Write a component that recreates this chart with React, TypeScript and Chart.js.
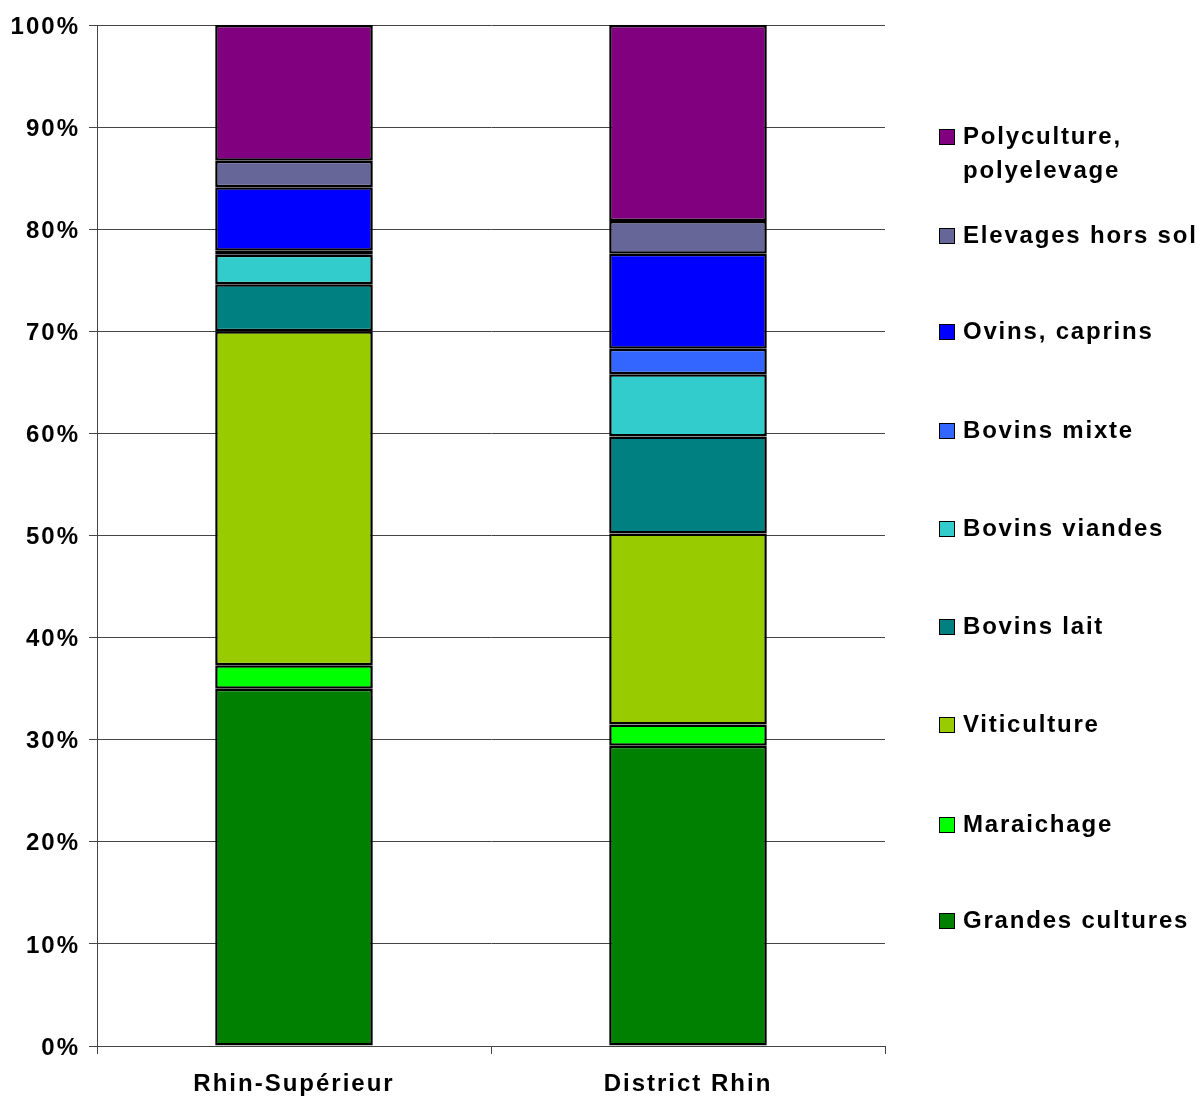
import React, { useEffect, useRef } from "react";
import { Chart, registerables } from "chart.js";

Chart.register(...registerables);

const categories = ["Rhin-Supérieur", "District Rhin"];
const seriesNames = [
  "Grandes cultures",
  "Maraichage",
  "Viticulture",
  "Bovins lait",
  "Bovins viandes",
  "Bovins mixte",
  "Ovins, caprins",
  "Elevages hors sol",
  "Polyculture, polyelevage",
];
const legendLines = [
  ["Grandes cultures"],
  ["Maraichage"],
  ["Viticulture"],
  ["Bovins lait"],
  ["Bovins viandes"],
  ["Bovins mixte"],
  ["Ovins, caprins"],
  ["Elevages hors sol"],
  ["Polyculture,", "polyelevage"],
];
const grandesCultures = [35.0, 29.4];
const maraichage = [2.3, 2.1];
const viticulture = [32.7, 18.7];
const bovinsLait = [4.6, 9.5];
const bovinsViandes = [2.9, 6.1];
const bovinsMixte = [0.4, 2.5];
const ovinsCaprins = [6.2, 9.3];
const elevagesHorsSol = [2.6, 3.2];
const polyculture = [13.3, 19.2];
const seriesValues = [
  grandesCultures,
  maraichage,
  viticulture,
  bovinsLait,
  bovinsViandes,
  bovinsMixte,
  ovinsCaprins,
  elevagesHorsSol,
  polyculture,
];
const colors = [
  "#008000",
  "#00FF00",
  "#99CC00",
  "#008080",
  "#33CCCC",
  "#3366FF",
  "#0000FF",
  "#666699",
  "#800080",
];
const yTicks = [0, 10, 20, 30, 40, 50, 60, 70, 80, 90, 100];

const FONT = "'Liberation Sans', Arial, sans-serif";

const spacingPlugin = {
  id: "letterSpacing",
  beforeDraw: (chart: any) => {
    try {
      chart.ctx.letterSpacing = "2px";
    } catch (e) {}
  },
};

export default function App() {
  const ref = useRef<HTMLCanvasElement | null>(null);

  useEffect(() => {
    if (!ref.current) return;
    const chart = new Chart(ref.current, {
      type: "bar",
      data: {
        labels: categories,
        datasets: seriesNames.map((name, i) => ({
          label: name,
          data: seriesValues[i],
          backgroundColor: colors[i],
          borderColor: "#000000",
          borderWidth: 2.5,
          borderSkipped: false,
          barPercentage: 0.4,
          categoryPercentage: 1,
        })),
      },
      plugins: [spacingPlugin],
      options: {
        animation: false,
        responsive: true,
        maintainAspectRatio: false,
        layout: { padding: { top: 25, right: 317, left: 0, bottom: 0 } },
        plugins: { legend: { display: false }, tooltip: { enabled: false } },
        scales: {
          x: {
            stacked: true,
            offset: true,
            grid: {
              offset: true,
              drawOnChartArea: false,
              drawTicks: true,
              tickLength: 8,
              color: "#444",
            },
            border: { color: "#444", width: 1 },
            ticks: {
              color: "#000",
              padding: 16,
              font: { family: FONT, size: 24, weight: "bold" },
            },
            afterFit: (s: any) => {
              s.height = 51;
            },
          },
          y: {
            stacked: true,
            min: 0,
            max: 100,
            afterBuildTicks: (s: any) => {
              s.ticks = yTicks.map((v) => ({ value: v }));
            },
            grid: { color: "#444", tickLength: 8, lineWidth: 1 },
            border: { color: "#444", width: 1 },
            ticks: {
              color: "#000",
              padding: 9,
              labelOffset: 2,
              font: { family: FONT, size: 24, weight: "bold" },
              callback: (v: any) => v + "%",
            },
            afterFit: (s: any) => {
              s.width = 97;
            },
          },
        },
      },
    });
    return () => chart.destroy();
  }, []);

  const legendTops = [920, 824, 724, 626, 528, 430, 331, 235, 136];

  return (
    <div style={{ position: "absolute", left: 0, top: 0, width: 1202, height: 1097 }}>
      <canvas ref={ref} />
      {seriesNames.map((name, i) => (
        <div
          key={name}
          style={{
            position: "absolute",
            left: 939,
            top: legendTops[i] - 9,
            display: "flex",
            alignItems: "flex-start",
            fontFamily: FONT,
            fontWeight: "bold",
            fontSize: 24,
            lineHeight: "34px",
            color: "#000",
            whiteSpace: "nowrap",
            letterSpacing: "1.8px",
          }}
        >
          <div
            style={{
              width: 14,
              height: 14,
              marginTop: 2,
              background: colors[i],
              border: "1px solid #000",
              marginRight: 8,
            }}
          />
          <div style={{ marginTop: -8 }}>
            {legendLines[i].map((l, k) => (
              <div key={k}>{l}</div>
            ))}
          </div>
        </div>
      ))}
    </div>
  );
}
